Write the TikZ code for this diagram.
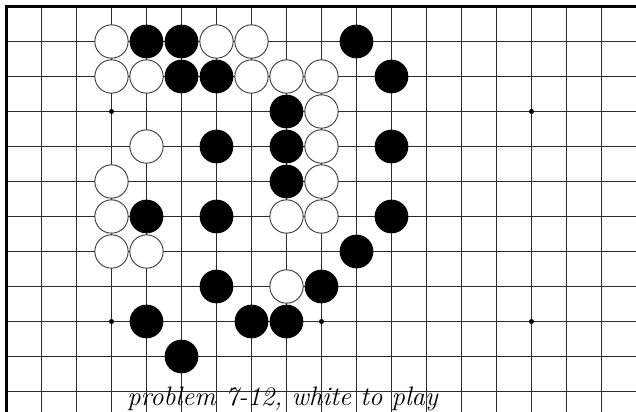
\documentclass[tikz,border=0pt]{standalone}
\usepackage{tikz}
\usetikzlibrary{positioning}
\definecolor{gridcol}{RGB}{45,45,45}
\definecolor{rimcol}{RGB}{60,60,60}

\begin{document}
\begin{tikzpicture}[
  x=26.25pt, y=-26.25pt,
  gridline/.style={draw=gridcol, line width=0.8pt},
  edgeline/.style={draw=black, line width=1.6pt},
  bstone/.style={circle, fill=black, minimum size=25.3pt, inner sep=0pt},
  wstone/.style={circle, fill=white, draw=rimcol, line width=0.7pt,
                 minimum size=25pt, inner sep=0pt},
  hoshi/.style={circle, fill=black, minimum size=3.8pt, inner sep=0pt},
  caption/.style={font=\fontsize{20}{24}\selectfont\itshape,
                  anchor=base, inner sep=0pt}
]
  \useasboundingbox (-0.1857,-0.1857) rectangle (17.9857,11.5571);
  \clip (-0.1857,-0.1857) rectangle (17.9857,11.5571);

  % board
  \foreach \c in {0,...,18}
    \draw[gridline] (\c,0) -- (\c,12);
  \foreach \r in {0,...,12}
    \draw[gridline] (0,\r) -- (18,\r);
  \draw[edgeline] (0,12) -- (0,0) -- (18,0);

  \foreach \c/\r in {3/3, 9/3, 15/3, 3/9, 9/9, 15/9}
    \node[hoshi] (h-\c-\r) at (\c,\r) {};

  % stones
  \foreach \c/\r in {4/1, 5/1, 10/1, 5/2, 6/2, 11/2, 8/3, 6/4, 8/4, 11/4,
                     8/5, 4/6, 6/6, 11/6, 10/7, 6/8, 9/8, 4/9, 7/9, 8/9, 5/10}
    \node[bstone] (b-\c-\r) at (\c,\r) {};
  \foreach \c/\r in {3/1, 6/1, 7/1, 3/2, 4/2, 7/2, 8/2, 9/2, 9/3, 4/4, 9/4,
                     3/5, 9/5, 3/6, 8/6, 9/6, 3/7, 4/7, 8/8}
    \node[wstone] (w-\c-\r) at (\c,\r) {};

  \node[caption] (title) at (7.886,11.414) {problem 7-12, white to play};
\end{tikzpicture}
\end{document}
